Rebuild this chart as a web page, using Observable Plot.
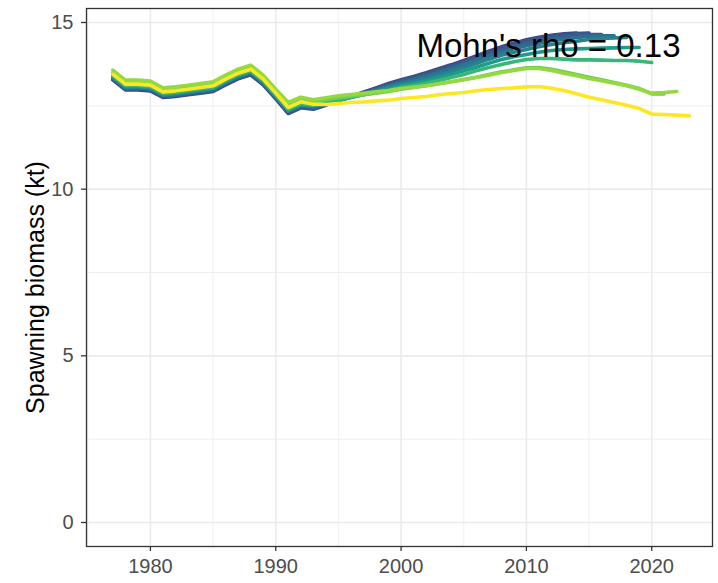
<!DOCTYPE html>
<html>
<head>
<meta charset="utf-8">
<script src="https://cdn.jsdelivr.net/npm/d3@7"></script>
<script src="https://cdn.jsdelivr.net/npm/@observablehq/plot@0.6"></script>
<style>
  html, body { margin: 0; padding: 0; background: #ffffff; }
  #chart svg { display: block; }
</style>
</head>
<body>
<div id="chart"></div>
<script>
// Retrospective spawning biomass estimates (kt), one run per terminal year.
const firstYear = 1977;
const peels = [2014, 2015, 2016, 2017, 2018, 2019, 2020, 2021, 2022, 2023];

const ssb2014 = [13.28,12.98,12.98,12.95,12.75,12.78,12.83,12.88,12.93,13.13,13.31,13.43,13.13,12.71,12.27,12.44,12.40,
  12.52,12.65,12.78,12.91,13.04,13.17,13.28,13.38,13.49,13.61,13.73,13.86,14.00,14.14,14.27,14.38,14.48,14.56,14.62,14.66,14.68];
const ssb2015 = [13.30,13.00,13.00,12.97,12.77,12.80,12.85,12.90,12.95,13.15,13.33,13.45,13.15,12.73,12.29,12.46,12.42,
  12.53,12.66,12.78,12.90,13.02,13.15,13.26,13.36,13.46,13.58,13.70,13.83,13.96,14.10,14.23,14.35,14.45,14.53,14.60,14.64,14.67,14.68];
const ssb2016 = [13.32,13.02,13.02,12.99,12.79,12.82,12.87,12.92,12.97,13.17,13.35,13.47,13.17,12.75,12.31,12.48,12.44,
  12.54,12.66,12.78,12.89,13.00,13.12,13.23,13.33,13.43,13.54,13.66,13.78,13.91,14.04,14.17,14.28,14.38,14.46,14.53,14.58,14.62,14.64,14.64];
const ssb2017 = [13.34,13.04,13.04,13.01,12.81,12.84,12.89,12.94,12.99,13.19,13.37,13.49,13.19,12.77,12.33,12.50,12.46,
  12.55,12.66,12.77,12.88,12.98,13.09,13.19,13.28,13.38,13.49,13.61,13.73,13.86,13.99,14.11,14.21,14.30,14.38,14.45,14.50,14.55,14.58,14.60,14.60];
const ssb2018 = [13.36,13.06,13.06,13.03,12.83,12.86,12.91,12.96,13.01,13.21,13.39,13.51,13.21,12.79,12.35,12.52,12.48,
  12.56,12.66,12.76,12.86,12.96,13.06,13.15,13.23,13.32,13.42,13.53,13.65,13.77,13.90,14.02,14.11,14.19,14.27,14.34,14.39,14.44,14.49,14.52,14.54,14.55];
const ssb2019 = [13.38,13.08,13.08,13.05,12.85,12.88,12.93,12.98,13.03,13.23,13.41,13.53,13.23,12.81,12.37,12.54,12.50,
  12.58,12.67,12.75,12.83,12.92,13.01,13.10,13.17,13.25,13.34,13.44,13.55,13.66,13.78,13.89,13.97,14.04,14.11,14.16,14.19,14.21,14.22,14.23,14.24,14.25,14.25];
const ssb2020 = [13.41,13.11,13.11,13.08,12.88,12.91,12.96,13.01,13.06,13.26,13.44,13.56,13.26,12.84,12.40,12.57,12.52,
  12.60,12.69,12.76,12.83,12.90,12.97,13.05,13.11,13.18,13.26,13.35,13.44,13.55,13.65,13.74,13.82,13.89,13.92,13.92,13.90,13.88,13.88,13.87,13.86,13.86,13.84,13.80];
const ssb2021 = [13.49,13.19,13.19,13.16,12.96,12.99,13.04,13.09,13.14,13.34,13.52,13.64,13.34,12.92,12.50,12.66,12.60,
  12.68,12.74,12.79,12.83,12.88,12.93,13.00,13.05,13.10,13.16,13.22,13.29,13.36,13.44,13.52,13.58,13.64,13.65,13.60,13.52,13.44,13.36,13.28,13.20,13.12,13.02,12.86,12.86];
const ssb2022 = [13.57,13.27,13.27,13.24,13.04,13.07,13.12,13.17,13.22,13.42,13.60,13.72,13.42,13.00,12.60,12.76,12.68,
  12.74,12.80,12.84,12.88,12.92,12.96,13.02,13.06,13.10,13.16,13.22,13.28,13.35,13.42,13.50,13.56,13.62,13.62,13.56,13.48,13.40,13.32,13.25,13.18,13.10,13.00,12.88,12.90,12.93];
const ssb2023 = [13.45,13.15,13.15,13.12,12.92,12.95,13.00,13.05,13.10,13.30,13.48,13.60,13.30,12.88,12.45,12.62,12.55,
  12.54,12.57,12.60,12.62,12.65,12.67,12.72,12.75,12.78,12.83,12.87,12.90,12.95,12.99,13.02,13.04,13.07,13.08,13.03,12.96,12.86,12.76,12.68,12.60,12.52,12.42,12.25,12.24,12.22,12.20];

const runs = [ssb2014, ssb2015, ssb2016, ssb2017, ssb2018, ssb2019, ssb2020, ssb2021, ssb2022, ssb2023];

const xTicks = [1980, 1990, 2000, 2010, 2020];
const xMinor = [1975, 1985, 1995, 2005, 2015];
const yTicks = [0, 5, 10, 15];
const yMinor = [2.5, 7.5, 12.5];
const mohnsRho = 0.13;
const yTitle = "Spawning biomass (kt)";

// Long-format table: one row per run and year
const rows = runs.flatMap((values, k) =>
  values.map((ssb, i) => ({peel: peels[k], year: firstYear + i, ssb}))
);

// viridis colours from dark blue to yellow, one per run
const viridisStops = [0.2, 0.25, 0.3, 0.37, 0.44, 0.55, 0.67, 0.78, 0.84, 1.0];
const runColors = viridisStops.map(t => d3.interpolateViridis(t));

const grid = {stroke: "#ebebeb", strokeOpacity: 1};
const ink = "#333333";
const tickText = "#4d4d4d";

const chart = Plot.plot({
  width: 718,
  height: 583,
  marginLeft: 86,
  marginRight: 6,
  marginTop: 8,
  marginBottom: 37,
  x: {domain: [1974.9, 2024.85]},
  y: {domain: [-0.72, 15.42]},
  color: {type: "ordinal", domain: peels, range: runColors},
  style: {fontFamily: "'Liberation Sans', Arial, sans-serif", background: "#ffffff", overflow: "visible"},
  marks: [
    Plot.gridX(xMinor, {...grid, strokeWidth: 0.8}),
    Plot.gridY(yMinor, {...grid, strokeWidth: 0.8}),
    Plot.gridX(xTicks, {...grid, strokeWidth: 1.6}),
    Plot.gridY(yTicks, {...grid, strokeWidth: 1.6}),
    Plot.line(rows, {x: "year", y: "ssb", z: "peel", stroke: "peel", strokeWidth: 3.6, strokeLinejoin: "round"}),
    Plot.frame({stroke: ink, strokeWidth: 1.3}),
    Plot.axisX(xTicks, {tickSize: 5, tickPadding: 7, fontSize: 20, stroke: ink, fill: tickText, strokeWidth: 1.3, tickFormat: d => String(d), label: null}),
    Plot.axisY(yTicks, {tickSize: 5, tickPadding: 8, fontSize: 20, stroke: ink, fill: tickText, strokeWidth: 1.3, label: null}),
    Plot.text([yTitle], {frameAnchor: "left", dx: -51, dy: 10, rotate: -90, fontSize: 25, fill: "#000000", textAnchor: "middle", lineAnchor: "middle"}),
    Plot.text([`Mohn's rho = ${mohnsRho}`], {frameAnchor: "top-right", dx: -32, dy: 25, textAnchor: "end", lineAnchor: "top", fontSize: 33, fill: "#000000"})
  ]
});

document.getElementById("chart").append(chart);
</script>
</body>
</html>
